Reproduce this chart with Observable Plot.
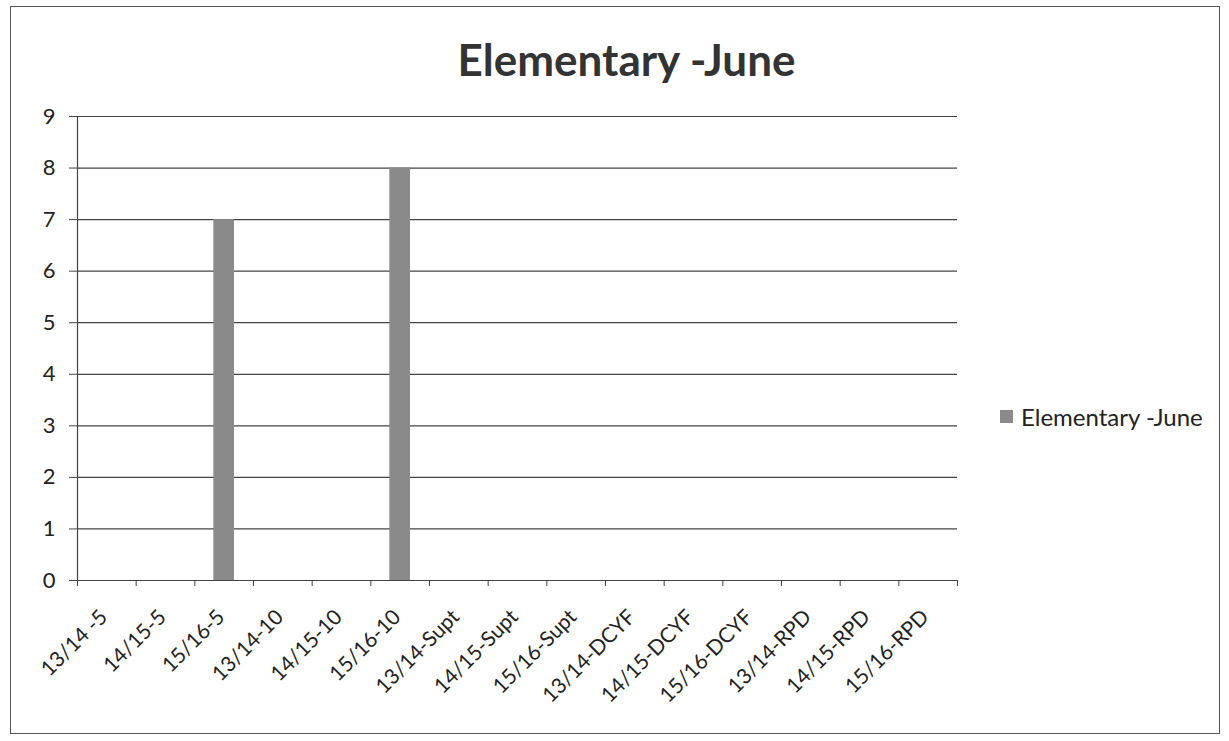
<!DOCTYPE html>
<html>
<head>
<meta charset="utf-8">
<script src="https://cdn.jsdelivr.net/npm/d3@7"></script>
<script src="https://cdn.jsdelivr.net/npm/@observablehq/plot@0.6"></script>
<style>
  html, body { margin: 0; padding: 0; background: #fff; }
  #frame { position: relative; width: 1229px; height: 741px; overflow: hidden; font-family: Lato, "Open Sans", sans-serif; }
  #border { position: absolute; left: 10px; top: 6px; width: 1210px; height: 728px; border: 1.5px solid #555; box-sizing: border-box; }
  #title { position: absolute; left: 0; width: 1253px; top: 37px; line-height: 1; text-align: center; font-size: 44px; font-weight: bold; color: #333; }
  #chart { position: absolute; left: 0; top: 100px; }
  #legsw { position: absolute; left: 1000px; top: 410px; width: 13px; height: 13px; background: #8a8a8a; }
  #legtext { position: absolute; left: 1021px; top: 405px; line-height: 1; font-size: 24px; color: #222; white-space: nowrap; }
</style>
</head>
<body>
<div id="frame">
  <div id="border"></div>
  <div id="title">Elementary -June</div>
  <div id="chart"></div>
  <div id="legsw"></div>
  <div id="legtext"></div>
</div>
<script>
const seriesName = "Elementary -June";
const categories = ["13/14 -5","14/15-5","15/16-5","13/14-10","14/15-10","15/16-10","13/14-Supt","14/15-Supt","15/16-Supt","13/14-DCYF","14/15-DCYF","15/16-DCYF","13/14-RPD","14/15-RPD","15/16-RPD"];
const values = [0,0,7,0,0,8,0,0,0,0,0,0,0,0,0];
const yTicks = [0,1,2,3,4,5,6,7,8,9];

document.getElementById("legtext").textContent = seriesName;

const data = categories.map((c, i) => ({i, c, v: values[i]}));
const bounds = d3.range(categories.length + 1);
const centers = categories.map((c, i) => i + 0.5);

const chart = Plot.plot({
  width: 980,
  height: 600,
  marginLeft: 77,
  marginRight: 23,
  marginTop: 16,
  marginBottom: 120,
  style: {fontFamily: "Lato, 'Open Sans', sans-serif", fontSize: "18px", color: "#222", overflow: "visible"},
  x: {type: "linear", domain: [0, categories.length], axis: null, label: null},
  y: {domain: [0, 9], axis: null, label: null},
  marks: [
    Plot.ruleY(yTicks, {stroke: "#444", strokeWidth: 1.2}),
    Plot.rectY(data, {x1: "i", x2: d => d.i + 1, y: "v", fill: "#8a8a8a", insetLeft: 19, insetRight: 19}),
    Plot.ruleX([0], {y1: 0, y2: 9, stroke: "#444", strokeWidth: 1.2}),
    Plot.axisY({ticks: yTicks, tickSize: 8, tickPadding: 14, tickFormat: d3.format("d"), stroke: "#444", fontSize: 22, color: "#222", label: null}),
    Plot.axisX({ticks: bounds, tickSize: 6, tickFormat: () => "", stroke: "#444", label: null}),
    Plot.axisX({ticks: centers, tickSize: 0, tickPadding: 33, dx: -3, tickRotate: -45, tickFormat: d => categories[Math.floor(d)], fontSize: 21, textAnchor: "end", color: "#222", label: null})
  ]
});
document.getElementById("chart").appendChild(chart);
</script>
</body>
</html>
